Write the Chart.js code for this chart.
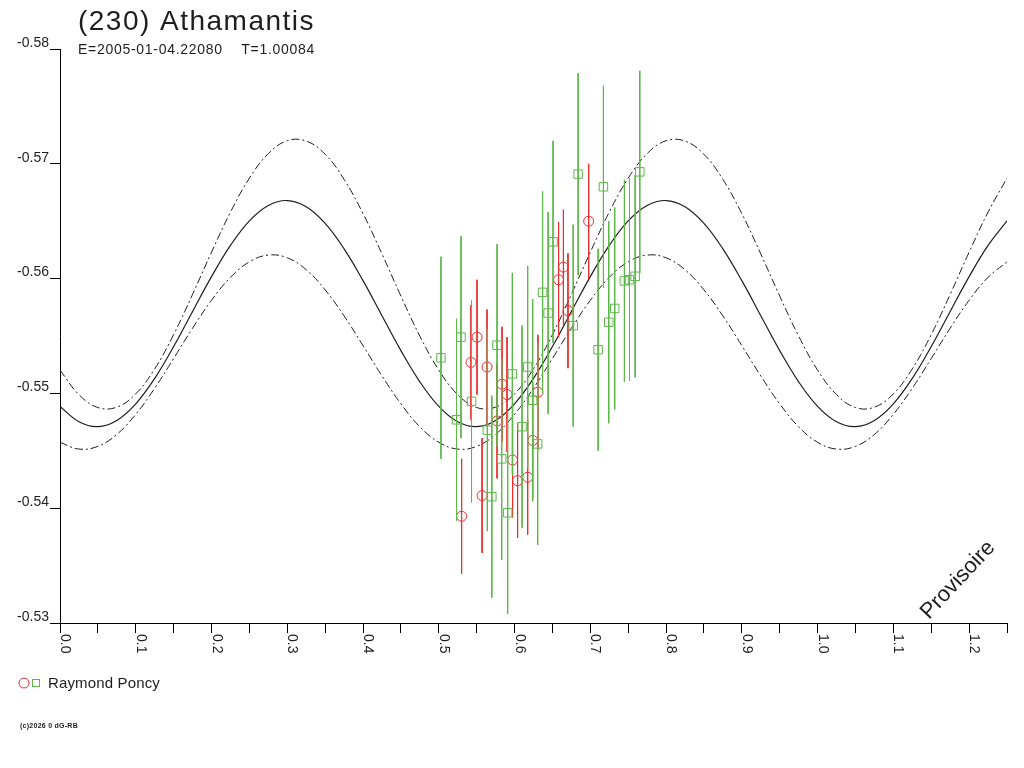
<!DOCTYPE html>
<html>
<head>
<meta charset="utf-8">
<title>(230) Athamantis</title>
<script src="https://cdn.jsdelivr.net/npm/chart.js@4.4.1/dist/chart.umd.min.js"></script>
<style>
  html, body { margin: 0; padding: 0; background: #fff; }
  canvas { display: block; }
</style>
</head>
<body>
<canvas id="lc" width="1024" height="768"></canvas>
<script>
// phase grid for the fitted curves (step 0.025)
const phaseGrid = [
  0.000, 0.025, 0.050, 0.075, 0.100, 0.125, 0.150, 0.175, 0.200, 0.225,
  0.250, 0.275, 0.300, 0.325, 0.350, 0.375, 0.400, 0.425, 0.450, 0.475,
  0.500, 0.525, 0.550, 0.575, 0.600, 0.625, 0.650, 0.675, 0.700, 0.725,
  0.750, 0.775, 0.800, 0.825, 0.850, 0.875, 0.900, 0.925, 0.950, 0.975,
  1.000, 1.025, 1.050, 1.075, 1.100, 1.125, 1.150, 1.175, 1.200, 1.225,
  1.250
];

// mean fit (solid)
const fitMag = [
  -0.54887, -0.54753, -0.54710, -0.54764, -0.54909, -0.55131, -0.55408, -0.55714, -0.56017, -0.56289,
  -0.56503, -0.56637, -0.56680, -0.56626, -0.56481, -0.56259, -0.55982, -0.55677, -0.55373, -0.55101,
  -0.54887, -0.54753, -0.54710, -0.54764, -0.54909, -0.55131, -0.55408, -0.55714, -0.56017, -0.56289,
  -0.56503, -0.56637, -0.56680, -0.56626, -0.56481, -0.56259, -0.55982, -0.55677, -0.55373, -0.55101,
  -0.54887, -0.54753, -0.54710, -0.54764, -0.54909, -0.55131, -0.55408, -0.55714, -0.56017, -0.56289,
  -0.56503
];

// upper envelope (dash-dot)
const upperMag = [
  -0.55203, -0.54989, -0.54877, -0.54880, -0.54996, -0.55214, -0.55512, -0.55863, -0.56230, -0.56579,
  -0.56875, -0.57089, -0.57201, -0.57198, -0.57083, -0.56864, -0.56566, -0.56215, -0.55848, -0.55499,
  -0.55203, -0.54989, -0.54877, -0.54880, -0.54996, -0.55214, -0.55512, -0.55863, -0.56230, -0.56579,
  -0.56875, -0.57089, -0.57201, -0.57198, -0.57083, -0.56864, -0.56566, -0.56215, -0.55848, -0.55499,
  -0.55203, -0.54989, -0.54877, -0.54880, -0.54996, -0.55214, -0.55512, -0.55863, -0.56230, -0.56579,
  -0.56875
];

// lower envelope (dash-dot)
const lowerMag = [
  -0.54574, -0.54515, -0.54539, -0.54643, -0.54818, -0.55045, -0.55304, -0.55568, -0.55811, -0.56011,
  -0.56146, -0.56205, -0.56181, -0.56077, -0.55902, -0.55675, -0.55416, -0.55152, -0.54909, -0.54709,
  -0.54574, -0.54515, -0.54539, -0.54643, -0.54818, -0.55045, -0.55304, -0.55568, -0.55811, -0.56011,
  -0.56146, -0.56205, -0.56181, -0.56077, -0.55902, -0.55675, -0.55416, -0.55152, -0.54909, -0.54709,
  -0.54574, -0.54515, -0.54539, -0.54643, -0.54818, -0.55045, -0.55304, -0.55568, -0.55811, -0.56011,
  -0.56146
];

// Raymond Poncy, session 1 (red circles)
const redPhase = [0.5301, 0.5425, 0.5505, 0.5571, 0.5637, 0.5769, 0.5835, 0.5901, 0.5974,
                  0.6040, 0.6173, 0.6239, 0.6308, 0.6581, 0.6645, 0.6705, 0.6978];
const redMag = [-0.5393, -0.5527, -0.5549, -0.5411, -0.5523, -0.5476, -0.5508, -0.5499, -0.5442,
                -0.5424, -0.5427, -0.5459, -0.5501, -0.5599, -0.5610, -0.5572, -0.5650];
const redErr = [0.0050, 0.0050, 0.0050, 0.0050, 0.0050, 0.0050, 0.0050, 0.0050, 0.0050,
                0.0050, 0.0050, 0.0050, 0.0050, 0.0050, 0.0050, 0.0050, 0.0050];

// Raymond Poncy, session 2 (green squares)
const greenPhase = [0.5029, 0.5234, 0.5293, 0.5432, 0.5641, 0.5700, 0.5769, 0.5830, 0.5909,
                    0.5971, 0.6099, 0.6173, 0.6239, 0.6305, 0.6370, 0.6443, 0.6508, 0.6774,
                    0.6839, 0.7103, 0.7173, 0.7243, 0.7322, 0.7450, 0.7517, 0.7592, 0.7653];
const greenMag = [-0.5531, -0.5477, -0.5549, -0.5493, -0.5468, -0.5410, -0.5542, -0.5443, -0.5396,
                  -0.5517, -0.5471, -0.5523, -0.5494, -0.5456, -0.5588, -0.5570, -0.5632, -0.5559,
                  -0.5691, -0.5538, -0.5680, -0.5562, -0.5574, -0.5598, -0.5599, -0.5602, -0.5693];
const greenErr = [0.0088, 0.0088, 0.0088, 0.0088, 0.0088, 0.0088, 0.0088, 0.0088, 0.0088,
                  0.0088, 0.0088, 0.0088, 0.0088, 0.0088, 0.0088, 0.0088, 0.0088, 0.0088,
                  0.0088, 0.0088, 0.0088, 0.0088, 0.0088, 0.0088, 0.0088, 0.0088, 0.0088];

const xTickValues = [0.0, 0.1, 0.2, 0.3, 0.4, 0.5, 0.6, 0.7, 0.8, 0.9, 1.0, 1.1, 1.2];
const xTickLabels = ['0.0', '0.1', '0.2', '0.3', '0.4', '0.5', '0.6', '0.7', '0.8', '0.9', '1.0', '1.1', '1.2'];
const yTickValues = [-0.58, -0.57, -0.56, -0.55, -0.54, -0.53];
const yTickLabels = ['-0.58', '-0.57', '-0.56', '-0.55', '-0.54', '-0.53'];

const RED = 'rgb(238,44,44)';
const GREEN = 'rgb(92,184,72)';
const INK = '#1e1e1e';
const FONT = '"Liberation Sans", Arial, sans-serif';

function curve(mags){
    return phaseGrid.map((p, i) => ({x: p, y: mags[i]}));
}
function points(ph, mag){
    return ph.map((p, i) => ({x: p, y: mag[i]}));
}
// each error bar = two points followed by a gap
function bars(ph, mag, err){
    const out = [];
    for (var i = 0; i < ph.length; i++){
        out.push({x: ph[i], y: mag[i] - err[i]});
        out.push({x: ph[i], y: mag[i] + err[i]});
        out.push({x: ph[i], y: null});
    }
    return out;
}
function yLabel(v){
    for (var i = 0; i < yTickValues.length; i++){
        if (Math.abs(yTickValues[i] - v) < 1e-6) return yTickLabels[i];
    }
    return '';
}

function spaced(ctx, text, x, y, width){
    ctx.letterSpacing = '0px';
    const w = ctx.measureText(text).width;
    ctx.letterSpacing = ((width - w) / text.length) + 'px';
    ctx.fillText(text, x, y);
    ctx.letterSpacing = '0px';
}

const decor = {
    id: 'decor',
    afterDraw(chart){
        const ctx = chart.ctx;
        const xs = chart.scales.x;
        const bottom = chart.chartArea.bottom;
        ctx.save();
        ctx.fillStyle = INK;
        ctx.textBaseline = 'alphabetic';
        ctx.textAlign = 'left';

        // title + epoch line
        ctx.font = '28px ' + FONT;
        spaced(ctx, '(230) Athamantis', 78, 30, 237);
        ctx.font = '14px ' + FONT;
        spaced(ctx, 'E=2005-01-04.22080    T=1.00084', 78, 54, 237);

        // x tick labels, rotated to read downward
        ctx.font = '14px ' + FONT;
        for (var i = 0; i < xTickValues.length; i++){
            const px = xs.getPixelForValue(xTickValues[i]);
            ctx.save();
            ctx.translate(px + 1, bottom + 11);
            ctx.rotate(Math.PI / 2);
            ctx.fillText(xTickLabels[i], 0, 0);
            ctx.restore();
        }

        // legend
        ctx.lineWidth = 1;
        ctx.strokeStyle = RED;
        ctx.beginPath();
        ctx.arc(24, 683, 5, 0, Math.PI * 2);
        ctx.stroke();
        ctx.strokeStyle = GREEN;
        ctx.strokeRect(32.5, 679.5, 7, 7);
        ctx.font = '15px ' + FONT;
        spaced(ctx, 'Raymond Poncy', 48, 688, 112);

        ctx.font = 'bold 7px ' + FONT;
        spaced(ctx, '(c)2026 0 dG-RB', 20, 728, 58);

        // watermark
        ctx.save();
        ctx.translate(958, 580);
        ctx.rotate(-47 * Math.PI / 180);
        ctx.textAlign = 'center';
        ctx.textBaseline = 'middle';
        ctx.font = '22px ' + FONT;
        ctx.fillText('Provisoire', 0, 0);
        ctx.restore();

        ctx.restore();
    }
};

const ctx = document.getElementById('lc');
const chart = new Chart(ctx, {
    type: 'scatter',
    data: {
        datasets: [
            {
                data: curve(fitMag), showLine: true, pointRadius: 0,
                borderColor: INK, borderWidth: 1.2, tension: 0.4, order: 6
            },
            {
                data: curve(upperMag), showLine: true, pointRadius: 0,
                borderColor: INK, borderWidth: 1, borderDash: [8, 3, 2, 3], tension: 0.4, order: 6
            },
            {
                data: curve(lowerMag), showLine: true, pointRadius: 0,
                borderColor: INK, borderWidth: 1, borderDash: [8, 3, 2, 3], tension: 0.4, order: 6
            },
            {
                data: bars(redPhase, redMag, redErr), showLine: true, spanGaps: false, pointRadius: 0,
                borderColor: RED, borderWidth: 1, order: 4
            },
            {
                data: points(redPhase, redMag), pointStyle: 'circle', pointRadius: 5,
                pointBorderColor: RED, pointBackgroundColor: 'rgba(0,0,0,0)', pointBorderWidth: 1, order: 3
            },
            {
                data: bars(greenPhase, greenMag, greenErr), showLine: true, spanGaps: false, pointRadius: 0,
                borderColor: GREEN, borderWidth: 1, order: 2
            },
            {
                data: points(greenPhase, greenMag), pointStyle: 'rect', pointRadius: 6,
                pointBorderColor: GREEN, pointBackgroundColor: 'rgba(0,0,0,0)', pointBorderWidth: 1, order: 1
            }
        ]
    },
    options: {
        responsive: false,
        animation: false,
        devicePixelRatio: 1,
        layout: { padding: { top: 49, right: 17, left: 0, bottom: 0 } },
        plugins: { legend: { display: false }, tooltip: { enabled: false } },
        scales: {
            x: {
                type: 'linear', min: 0, max: 1.25,
                afterFit: function(s){ s.height = 145; },
                ticks: { display: false, stepSize: 0.05, autoSkip: false },
                grid: { drawOnChartArea: false, drawTicks: true, tickLength: 10, color: '#000' },
                border: { display: true, color: '#000', width: 1 }
            },
            y: {
                type: 'linear', reverse: true, min: -0.58, max: -0.53,
                afterFit: function(s){ s.width = 60; },
                ticks: {
                    stepSize: 0.01, padding: 1, labelOffset: -6, color: INK,
                    font: { family: FONT, size: 14 },
                    callback: function(v){ return yLabel(v); }
                },
                grid: { drawOnChartArea: false, drawTicks: true, tickLength: 10, color: '#000' },
                border: { display: true, color: '#000', width: 1 }
            }
        }
    },
    plugins: [decor]
});
</script>
</body>
</html>
